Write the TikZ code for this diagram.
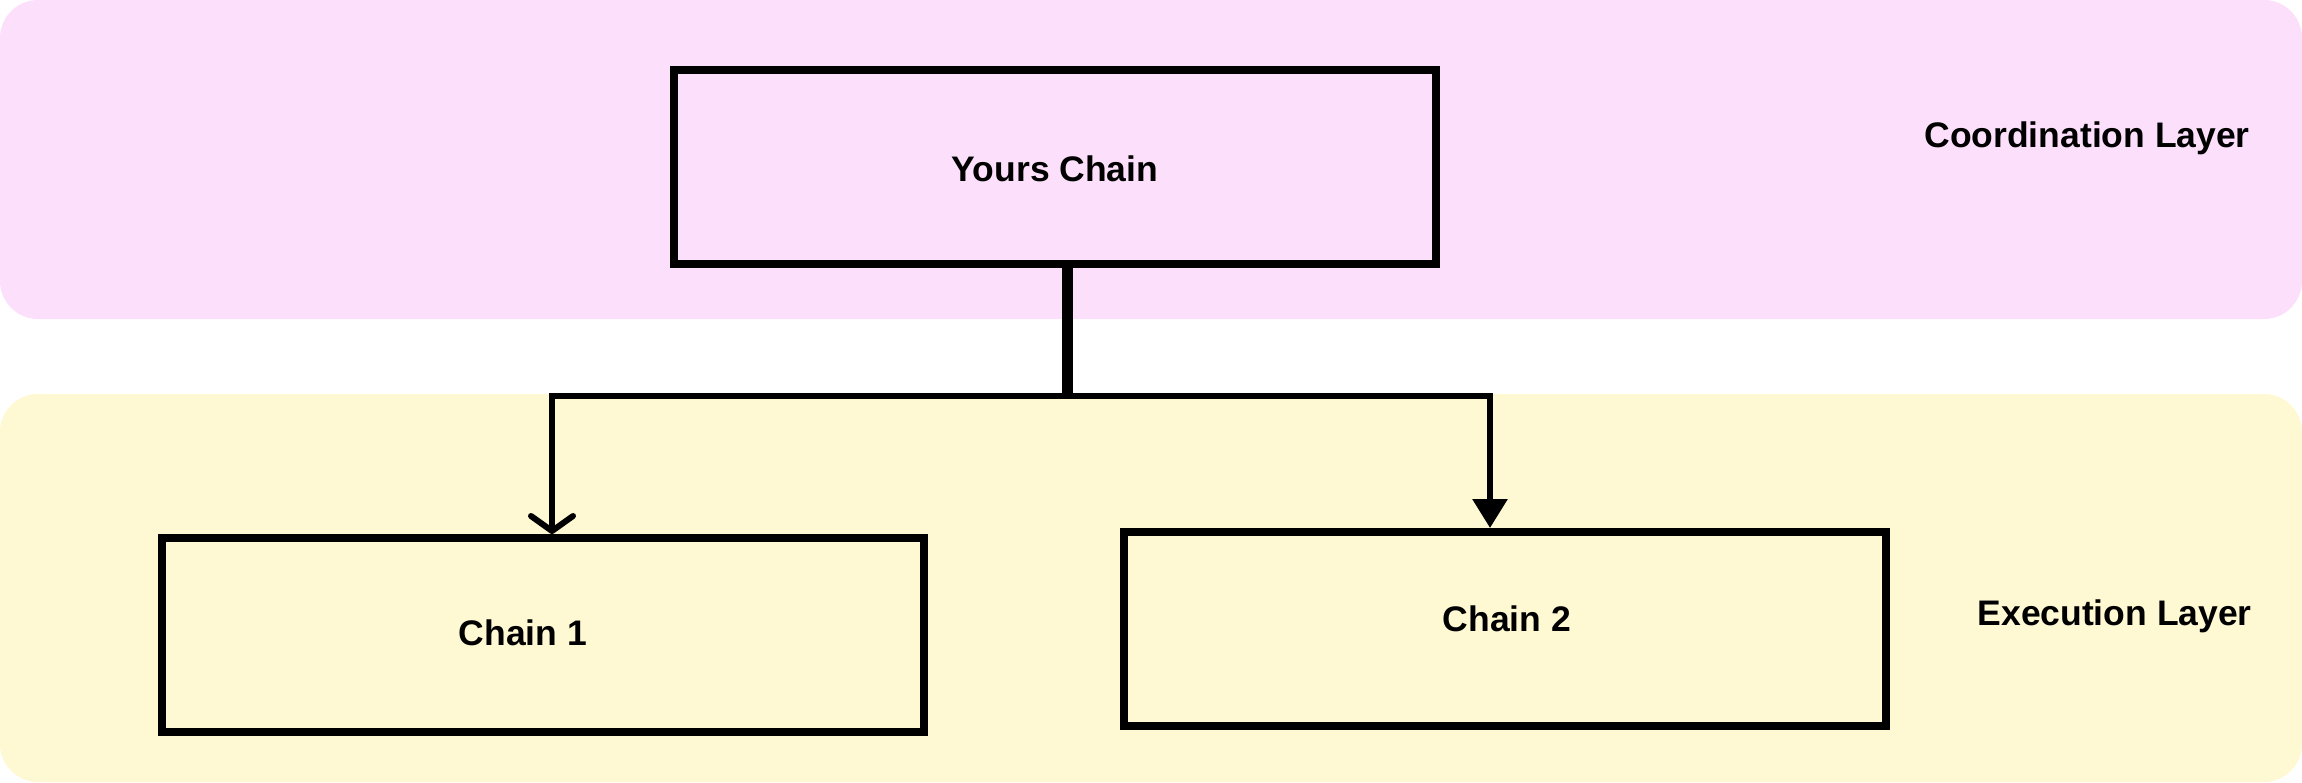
\documentclass[tikz,border=0pt]{standalone}
\usepackage{fontspec}
\setmainfont{Liberation Sans}
\usetikzlibrary{arrows.meta}
\definecolor{pinkbg}{RGB}{252,224,251}
\definecolor{yellowbg}{RGB}{254,248,211}
\tikzset{
  band/.style={rounded corners=38pt},
  chainbox/.style={draw=black, line width=8pt, rectangle, minimum width=762pt, minimum height=194pt, inner sep=0pt},
  lbl/.style={inner sep=0pt, font=\fontsize{35.5}{42}\selectfont\bfseries},
  trunk/.style={line width=11pt, draw=black},
  conn/.style={line width=6pt, draw=black, line join=miter},
  opentip/.style={-{Straight Barb[length=15pt, width=42pt, round]}},
  filltip/.style={-{Triangle[length=29pt, width=34pt]}}
}
\begin{document}
\begin{tikzpicture}[x=1pt, y=-1pt]
\useasboundingbox (0,0) rectangle (2302,782);
% layer bands
\fill[pinkbg, band] (0,0) rectangle (2302,319);
\fill[yellowbg, band] (0,394) rectangle (2302,782);
% boxes
\node[chainbox, fill=pinkbg] (yc) at (1055,167) {};
\node[chainbox, fill=yellowbg] (c1) at (543,635) {};
\node[chainbox, fill=yellowbg] (c2) at (1505,629) {};
% box texts
\node[lbl] (yct) at (1055,169) {Yours Chain};
\node[lbl] (c1t) at (523,633) {Chain 1};
\node[lbl] (c2t) at (1507,619) {Chain 2};
% layer labels
\node[lbl, anchor=base east] (coord) at (2250,147) {Coordination Layer};
\node[lbl, anchor=base east] (exec) at (2252,625) {Execution Layer};
% connectors
\coordinate (j) at (1067,396);
\coordinate (jl) at (552,396);
\coordinate (jr) at (1490,396);
\draw[trunk] (yc.south -| j) -- (j);
\draw[conn, opentip] (j) -- (jl) -- (jl |- c1.north);
\draw[conn, filltip] (j) -- (jr) -- (jr |- c2.north);
\end{tikzpicture}
\end{document}
